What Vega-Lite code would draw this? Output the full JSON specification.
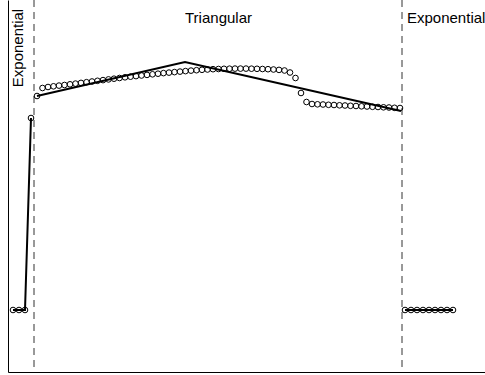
{
  "$schema": "https://vega.github.io/schema/vega-lite/v6.json",
  "width": 477,
  "height": 372,
  "autosize": {"type": "none"},
  "padding": {"left": 8, "top": 0, "right": 0, "bottom": 3},
  "background": "white",
  "config": {"view": {"stroke": null}, "font": "Liberation Sans"},
  "datasets": {
    "obs": [
      {"t": 13, "v": 62}, {"t": 19, "v": 62}, {"t": 25, "v": 62}, {"t": 31, "v": 254},
      {"t": 37, "v": 276}, {"t": 42.5, "v": 284}, {"t": 48, "v": 285}, {"t": 53.5, "v": 285.7},
      {"t": 59, "v": 286.4}, {"t": 64.5, "v": 287}, {"t": 70, "v": 287.7}, {"t": 75.5, "v": 288.4},
      {"t": 81, "v": 289.1}, {"t": 86.5, "v": 289.8}, {"t": 92, "v": 290.5}, {"t": 97.5, "v": 291.2},
      {"t": 103, "v": 291.9}, {"t": 108.5, "v": 292.6}, {"t": 114, "v": 293.3}, {"t": 119.5, "v": 294},
      {"t": 125, "v": 294.7}, {"t": 130.5, "v": 295.3}, {"t": 136, "v": 295.9}, {"t": 141.5, "v": 296.5},
      {"t": 147, "v": 297.1}, {"t": 152.5, "v": 297.7}, {"t": 158, "v": 298.3}, {"t": 163.5, "v": 298.9},
      {"t": 169, "v": 299.4}, {"t": 174.5, "v": 299.9}, {"t": 180, "v": 300.4}, {"t": 185.5, "v": 300.9},
      {"t": 191, "v": 301.4}, {"t": 196.5, "v": 301.8}, {"t": 202, "v": 302.2}, {"t": 207.5, "v": 302.5},
      {"t": 213, "v": 302.8}, {"t": 218.5, "v": 303}, {"t": 224, "v": 303.2}, {"t": 229.5, "v": 303.3},
      {"t": 235, "v": 303.4}, {"t": 240.5, "v": 303.4}, {"t": 246, "v": 303.4}, {"t": 251.5, "v": 303.3},
      {"t": 257, "v": 303.2}, {"t": 262.5, "v": 303}, {"t": 268, "v": 302.8}, {"t": 273.5, "v": 302.5},
      {"t": 279, "v": 302.1}, {"t": 284.5, "v": 301.5}, {"t": 290, "v": 299.5}, {"t": 295.5, "v": 294},
      {"t": 301, "v": 279}, {"t": 306.5, "v": 270}, {"t": 312, "v": 268}, {"t": 317.5, "v": 267.7},
      {"t": 323, "v": 267.5}, {"t": 328.5, "v": 267.2}, {"t": 334, "v": 267}, {"t": 339.5, "v": 266.7},
      {"t": 345, "v": 266.5}, {"t": 350.5, "v": 266.2}, {"t": 356, "v": 266}, {"t": 361.5, "v": 265.7},
      {"t": 367, "v": 265.5}, {"t": 372.5, "v": 265.2}, {"t": 378, "v": 265}, {"t": 383.5, "v": 264.7},
      {"t": 389, "v": 264.5}, {"t": 394.5, "v": 264.2}, {"t": 400, "v": 264},
      {"t": 405, "v": 62}, {"t": 411, "v": 62}, {"t": 417, "v": 62}, {"t": 423, "v": 62},
      {"t": 429, "v": 62}, {"t": 435, "v": 62}, {"t": 441, "v": 62}, {"t": 447, "v": 62}, {"t": 453, "v": 62}
    ],
    "fit": [
      {"seg": "exp1", "t": 13, "v": 62}, {"seg": "exp1", "t": 19, "v": 62}, {"seg": "exp1", "t": 25, "v": 62}, {"seg": "exp1", "t": 31, "v": 254},
      {"seg": "tri", "t": 37, "v": 276}, {"seg": "tri", "t": 185, "v": 310}, {"seg": "tri", "t": 401, "v": 261},
      {"seg": "exp2", "t": 405, "v": 62}, {"seg": "exp2", "t": 453, "v": 62}
    ],
    "bounds": [{"t": 34}, {"t": 402}],
    "clabels": [{"t": 218.5, "v": 354, "text": "Triangular"}],
    "llabels": [{"t": 407, "v": 354, "text": "Exponential"}],
    "rlabels": [{"t": 18, "v": 324, "text": "Exponential"}]
  },
  "encoding": {
    "x": {"field": "t", "type": "quantitative", "scale": {"domain": [8, 485], "nice": false, "zero": false},
          "axis": {"title": null, "ticks": false, "labels": false, "grid": false, "domainColor": "black", "domainWidth": 1}},
    "y": {"field": "v", "type": "quantitative", "scale": {"domain": [0, 372], "nice": false, "zero": false},
          "axis": {"title": null, "ticks": false, "labels": false, "grid": false, "domainColor": "black", "domainWidth": 1}}
  },
  "layer": [
    {"data": {"name": "bounds"}, "mark": {"type": "rule", "color": "#333", "strokeWidth": 1, "strokeDash": [7, 5]},
     "encoding": {"x": {"field": "t", "type": "quantitative"}, "y": {"value": 0}, "y2": {"value": 372}}},
    {"data": {"name": "fit"}, "mark": {"type": "line", "color": "black", "strokeWidth": 2},
     "encoding": {"detail": {"field": "seg"}, "order": {"field": "t", "type": "quantitative"}}},
    {"data": {"name": "obs"}, "mark": {"type": "point", "filled": false, "color": "black", "size": 32, "strokeWidth": 1, "opacity": 1}},
    {"data": {"name": "clabels"}, "mark": {"type": "text", "fontSize": 15, "color": "black", "baseline": "middle", "align": "center"},
     "encoding": {"text": {"field": "text"}}},
    {"data": {"name": "llabels"}, "mark": {"type": "text", "fontSize": 15, "color": "black", "baseline": "middle", "align": "left"},
     "encoding": {"text": {"field": "text"}}},
    {"data": {"name": "rlabels"}, "mark": {"type": "text", "fontSize": 15, "color": "black", "baseline": "middle", "align": "center", "angle": 270},
     "encoding": {"text": {"field": "text"}}}
  ]
}
